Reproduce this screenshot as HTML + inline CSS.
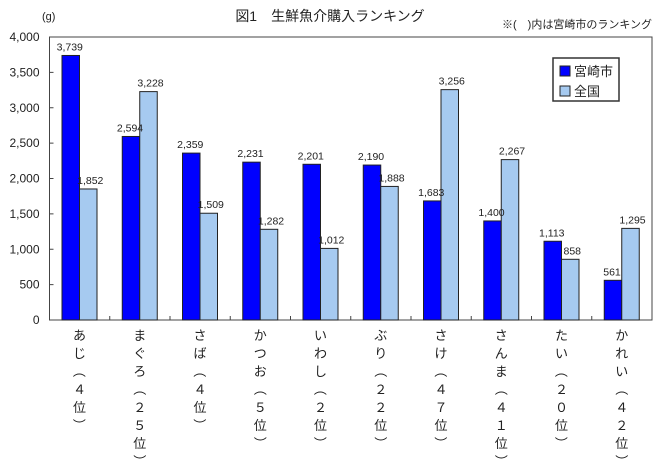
<!DOCTYPE html>
<html><head><meta charset="utf-8"><style>
body{margin:0;background:#fff;}
svg text{font-family:"Liberation Sans","Noto Sans CJK JP",sans-serif;fill:#222;}
</style></head><body>
<svg width="660" height="471" viewBox="0 0 660 471">
<text x="330" y="21" font-size="14" text-anchor="middle">図1　生鮮魚介購入ランキング</text>
<text x="652" y="28" font-size="11" text-anchor="end">※(　)内は宮崎市のランキング</text>
<text x="42" y="20" font-size="11">(g)</text>
<rect x="49.5" y="37" width="602.5" height="283" fill="none" stroke="#444" stroke-width="1"/>
<g id="axis"></g><g id="bars"></g><g id="labels"></g>
<g>
<rect x="553" y="58" width="66" height="43" fill="#fff" stroke="#333" stroke-width="1.5"/>
<rect x="560" y="66" width="10" height="10" fill="#0000ff" stroke="#222"/>
<text x="574" y="76" font-size="13">宮崎市</text>
<rect x="560" y="86" width="10" height="10" fill="#a6caf0" stroke="#222"/>
<text x="574" y="96" font-size="13">全国</text>
</g>
</svg>
<script>
const categories=["あじ（４位）","まぐろ（２５位）","さば（４位）","かつお（５位）","いわし（２位）","ぶり（２２位）","さけ（４７位）","さんま（４１位）","たい（２０位）","かれい（４２位）"];
const miyazaki=[3739,2594,2359,2231,2201,2190,1683,1400,1113,561];
const national=[1852,3228,1509,1282,1012,1888,3256,2267,858,1295];
const yTicks=[0,500,1000,1500,2000,2500,3000,3500,4000];
const NS="http://www.w3.org/2000/svg";
const x0=49.5,x1=652,y0=320,y1=37,yMax=4000;
const gw=(x1-x0)/categories.length;
const ys=v=>y0-(v/yMax)*(y0-y1);
const fmt=v=>v.toLocaleString('en-US');
function mk(t,a,p){const e=document.createElementNS(NS,t);for(const k in a)e.setAttribute(k,a[k]);p.appendChild(e);return e;}
const ax=document.getElementById('axis'),bg=document.getElementById('bars'),lg=document.getElementById('labels');
yTicks.forEach(v=>{
 mk('line',{x1:x0,x2:x0+4,y1:ys(v),y2:ys(v),stroke:'#444'},ax);
 const t=mk('text',{x:x0-10,y:ys(v)+4,'font-size':12,'text-anchor':'end'},ax);
 
 
 t.textContent=fmt(v);
});
categories.forEach((c,i)=>{
 const gx=x0+i*gw;
 if(i>0){mk('line',{x1:gx,x2:gx,y1:y0-4,y2:y0,stroke:'#444'},ax);}
 const bx=gx+12.5,bw=17.5;
 const b1=mk('rect',{x:bx,y:ys(miyazaki[i]),width:bw,height:y0-ys(miyazaki[i]),fill:'#0000ff',stroke:'#222','stroke-width':1},bg);
 
 
 const b2=mk('rect',{x:bx+bw,y:ys(national[i]),width:bw,height:y0-ys(national[i]),fill:'#a6caf0',stroke:'#222','stroke-width':1},bg);
 
 
 const t1=mk('text',{x:bx+bw/2-1,y:ys(miyazaki[i])-5,'font-size':10.5,'text-anchor':'middle'},lg);
 
 
 t1.textContent=fmt(miyazaki[i]);
 const t2=mk('text',{x:bx+bw*1.5+2,y:ys(national[i])-5,'font-size':10.5,'text-anchor':'middle'},lg);
 
 
 t2.textContent=fmt(national[i]);
 const cx=bx+bw;
 [...c].forEach((ch,j)=>{
  const isParen=ch==='（'||ch==='）';
  const y=340+j*18;
  const t=mk('text',{x:cx,y:y,'font-size':13,'text-anchor':'middle'},lg);
  if(isParen){t.setAttribute('transform','rotate(90 '+cx+' '+(y-5)+')');}
  
  
  t.textContent=ch;
 });
});
</script>
</body></html>
